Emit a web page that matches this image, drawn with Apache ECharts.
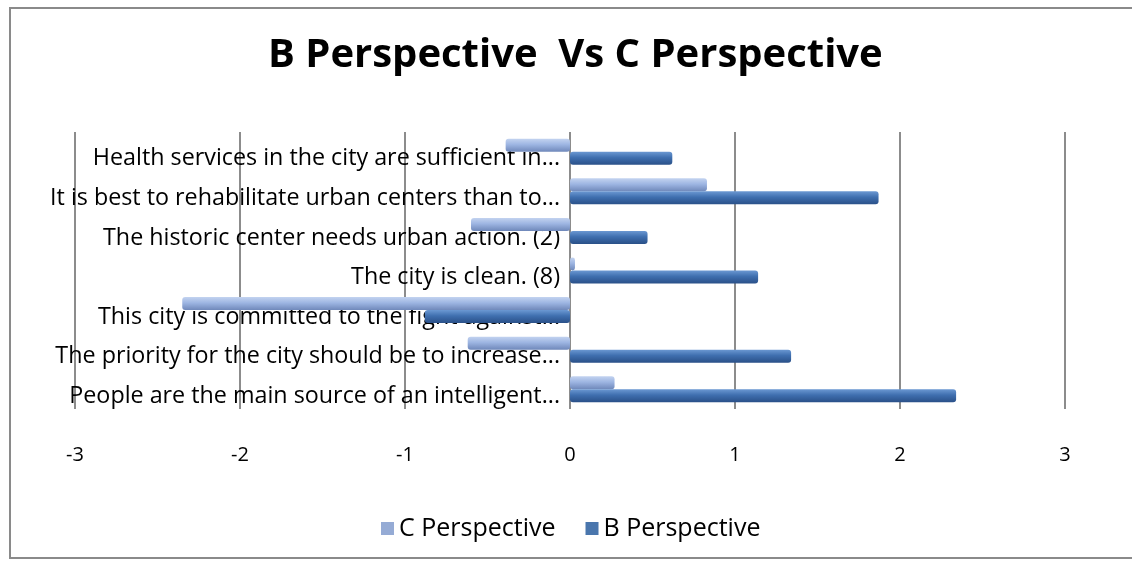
<!DOCTYPE html>
<html>
<head>
<meta charset="utf-8">
<script src="https://cdn.jsdelivr.net/npm/echarts@6/dist/echarts.min.js"></script>
<style>html,body{margin:0;padding:0;background:#fff;}#c{width:1132px;height:562px;}</style>
</head>
<body>
<div id="c"></div>
<script>
// Categories listed bottom to top (ECharts category y-axis starts at bottom)
var categories = [
  "People are the main source of an intelligent...",
  "The priority for the city should be to increase...",
  "This city is committed to the fight against...",
  "The city is clean. (8)",
  "The historic center needs urban action. (2)",
  "It is best to rehabilitate urban centers than to...",
  "Health services in the city are sufficient in..."
];
var cPerspective = [0.27, -0.62, -2.35, 0.03, -0.60, 0.83, -0.39];
var bPerspective = [2.34, 1.34, -0.88, 1.14, 0.47, 1.87, 0.62];
var xTicks = [-3, -2, -1, 0, 1, 2, 3];

var chart = echarts.init(document.getElementById('c'));
var font = '"Open Sans", Lato, sans-serif';
function grad(a, b, c) {
  return new echarts.graphic.LinearGradient(0, 0, 0, 1, [
    {offset: 0, color: a}, {offset: 0.45, color: b}, {offset: 1, color: c}
  ]);
}
chart.setOption({
  animation: false,
  backgroundColor: '#fff',
  title: {
    text: 'B Perspective  Vs C Perspective',
    left: 263, top: 31,
    textStyle: {fontFamily: font, fontSize: 40, fontWeight: 'bold', color: '#000'}
  },
  legend: {
    data: [
      {name: 'C Perspective', itemStyle: {color: '#95abd5'}},
      {name: 'B Perspective', itemStyle: {color: '#4a76ad'}}
    ],
    bottom: 16, left: 376,
    itemWidth: 13, itemHeight: 13, itemGap: 30,
    icon: 'rect',
    textStyle: {fontFamily: font, fontSize: 25, color: '#000'}
  },
  grid: [
    {left: 75, right: 67, top: 132, bottom: 153, containLabel: false, outerBoundsMode: 'none'},
    // label-only grid whose right edge sits at the zero line, labels aligned with the B bars
    {left: 0, right: 562, top: 139, bottom: 146, containLabel: false, outerBoundsMode: 'none'}
  ],
  xAxis: [
    {
      type: 'value', gridIndex: 0, min: -3, max: 3, interval: 1,
      axisLine: {show: false}, axisTick: {show: false},
      axisLabel: {
        margin: 36, fontFamily: font, fontSize: 20, color: '#000',
        formatter: function (v) { return xTicks.indexOf(v) >= 0 ? String(v) : ''; }
      },
      splitLine: {show: true, lineStyle: {color: '#8c8c8c', width: 2}}
    },
    {type: 'value', gridIndex: 1, show: false, min: 0, max: 1}
  ],
  yAxis: [
    {
      type: 'category', gridIndex: 0, data: categories,
      axisLine: {show: false}, axisTick: {show: false}, axisLabel: {show: false}
    },
    {
      type: 'category', gridIndex: 1, data: categories, position: 'right',
      axisLine: {show: false}, axisTick: {show: false}, splitLine: {show: false},
      axisLabel: {
        inside: true, margin: 10, fontFamily: font, fontSize: 23.3, color: '#000'
      },
      z: 0
    }
  ],
  series: [
    {
      name: 'C Perspective', type: 'bar', data: cPerspective,
      xAxisIndex: 0, yAxisIndex: 0,
      barWidth: 13, barGap: '0%', z: 5,
      itemStyle: {color: grad('#c3d3f0', '#9db5e2', '#6f88ba'), borderRadius: 3}
    },
    {
      name: 'B Perspective', type: 'bar', data: bPerspective,
      xAxisIndex: 0, yAxisIndex: 0,
      barWidth: 13, barGap: '0%', z: 5,
      itemStyle: {color: grad('#6b98d2', '#3f6faf', '#2a5088'), borderRadius: 3}
    }
  ],
  graphic: [
    {type: 'rect', shape: {x: 10, y: 8, width: 1140, height: 550},
     style: {fill: 'none', stroke: '#8a8a8a', lineWidth: 2}, z: -1}
  ]
});
</script>
</body>
</html>
